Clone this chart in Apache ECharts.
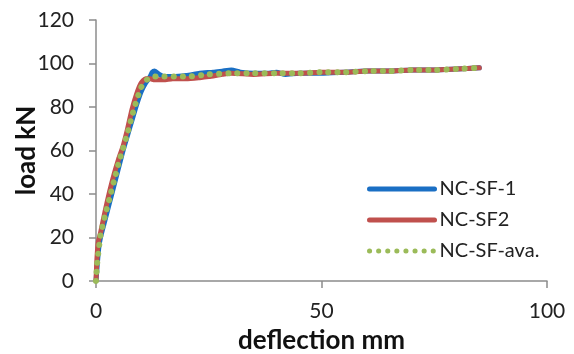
<!DOCTYPE html>
<html>
<head>
<meta charset="utf-8">
<script src="https://cdn.jsdelivr.net/npm/echarts@6/dist/echarts.min.js"></script>
<style>
  html, body { margin: 0; padding: 0; background: #fff; }
  #chart { width: 574px; height: 354px; }
</style>
</head>
<body>
<div id="chart"></div>
<script>
// deflection (mm) / load (kN)
const sf1X = [0, 0.3, 0.6, 1, 2, 3, 4, 5, 6, 7, 8, 9, 10, 11, 12, 12.5, 13, 14, 15, 17, 20, 23, 26, 28, 30, 32, 35, 38, 40, 42, 45, 50, 55, 60, 65, 70, 75, 80, 85];
const sf1Y = [0, 8, 15, 20, 28, 36, 44, 52, 60, 67, 74, 81, 87, 91, 94, 96, 96.5, 95, 94, 94, 94.5, 95.5, 96, 96.5, 97, 96, 95.5, 95.5, 96, 95, 95.5, 95.5, 96, 96.5, 96.5, 97, 97, 97.5, 98];

const sf2X = [0, 0.2, 0.5, 1, 2, 3, 4, 5, 6, 7, 8, 9, 10, 11, 12, 13, 15, 17, 20, 23, 25, 28, 30, 35, 40, 45, 50, 55, 60, 65, 70, 75, 80, 85];
const sf2Y = [0, 10, 18, 22, 32, 41, 49, 56, 62, 70, 79, 86, 91, 93, 93, 92.5, 92.5, 93, 93, 93.5, 94, 95, 95.5, 95, 95.5, 95.5, 96, 96, 96.5, 96.5, 97, 97, 97.5, 98];

const avaX = [0, 0.3, 0.7, 1, 2, 3, 4, 5, 6, 7, 8, 9, 10, 11, 12, 13, 15, 18, 20, 25, 30, 35, 40, 45, 50, 55, 60, 65, 70, 75, 80, 85];
const avaY = [0, 9, 16, 21, 30, 38, 46, 54, 61, 68, 76, 83, 89, 92, 93.5, 94, 94, 94, 94, 95, 95.5, 95.5, 95.5, 95.5, 96, 96, 96.5, 96.5, 97, 97, 97.5, 98];

const seriesNames = ['NC-SF-1', 'NC-SF2', 'NC-SF-ava.'];

const pairs = (xs, ys) => xs.map((x, i) => [x, ys[i]]);

const font = 'Lato, "Open Sans", sans-serif';
const chart = echarts.init(document.getElementById('chart'));

chart.setOption({
  animation: false,
  textStyle: { fontFamily: font },
  grid: { left: 96, right: 27, top: 20, bottom: 73, outerBoundsMode: 'none', containLabel: false },
  legend: {
    orient: 'vertical',
    left: 362,
    top: 174,
    itemWidth: 65,
    itemHeight: 12,
    itemGap: 11,
    lineStyle: { width: 5 },
    itemStyle: { opacity: 0 },
    textStyle: { fontSize: 20, color: '#222', fontFamily: font },
    data: seriesNames
  },
  xAxis: {
    type: 'value',
    min: 0, max: 100, interval: 50,
    name: 'deflection mm',
    nameLocation: 'middle',
    nameGap: 47,
    nameTextStyle: { fontSize: 26, fontWeight: 'bold', color: '#111' },
    axisLine: { show: true, lineStyle: { color: '#8c8c8c', width: 1.5 } },
    axisTick: { show: true, length: 7, lineStyle: { color: '#8c8c8c', width: 1.5 } },
    axisLabel: { fontSize: 21, color: '#222', margin: 20 },
    splitLine: { show: false }
  },
  yAxis: {
    type: 'value',
    min: 0, max: 120, interval: 20,
    name: 'load kN',
    nameLocation: 'middle',
    nameGap: 56,
    nameMoveOverlap: false,
    nameTextStyle: { fontSize: 26, fontWeight: 'bold', color: '#111' },
    axisLine: { show: true, lineStyle: { color: '#8c8c8c', width: 1.5 } },
    axisTick: { show: true, length: 7, lineStyle: { color: '#8c8c8c', width: 1.5 } },
    axisLabel: { fontSize: 21, color: '#222', margin: 22 },
    splitLine: { show: false }
  },
  series: [
    {
      name: seriesNames[0],
      type: 'line',
      symbol: 'none',
      smooth: 0.2,
      data: pairs(sf1X, sf1Y),
      itemStyle: { color: '#1a6fc4' },
      lineStyle: { color: '#1a6fc4', width: 5, cap: 'round', join: 'round' }
    },
    {
      name: seriesNames[1],
      type: 'line',
      symbol: 'none',
      smooth: 0.2,
      data: pairs(sf2X, sf2Y),
      itemStyle: { color: '#c0504d' },
      lineStyle: { color: '#c0504d', width: 5, cap: 'round', join: 'round' }
    },
    {
      name: seriesNames[2],
      type: 'line',
      symbol: 'none',
      smooth: 0.2,
      data: pairs(avaX, avaY),
      itemStyle: { color: '#9bbb59' },
      lineStyle: { color: '#9bbb59', width: 6, type: [0.1, 9], cap: 'round' }
    }
  ]
});
</script>
</body>
</html>
